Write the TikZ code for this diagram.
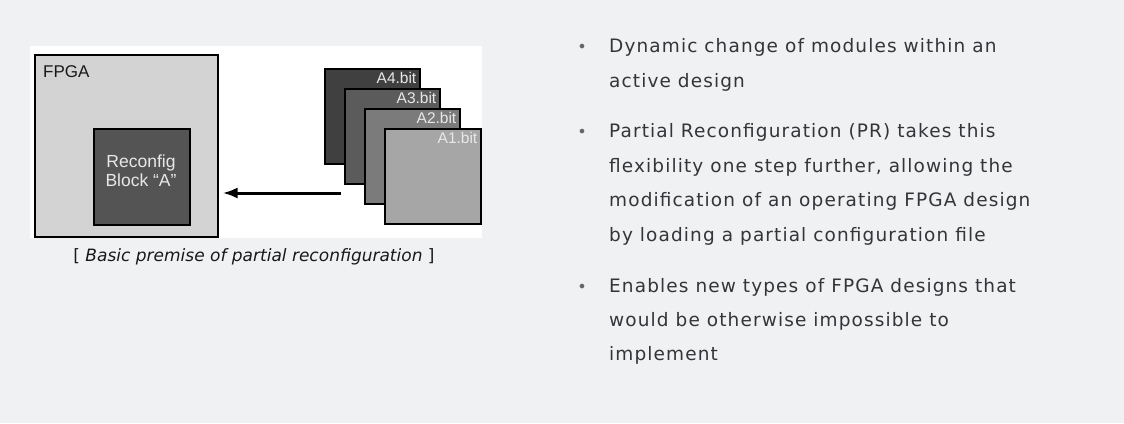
\documentclass[tikz,border=0pt]{standalone}
\usepackage{fontspec}
\setmainfont{Liberation Sans}
\newfontfamily\bulfont[LetterSpace=6]{DejaVu Sans}
\newfontfamily\capfont{DejaVu Sans}
\usetikzlibrary{arrows.meta}
\definecolor{bg}{HTML}{F0F1F3}
\definecolor{fpgagray}{HTML}{D3D3D3}
\definecolor{rbgray}{HTML}{545454}
\definecolor{afour}{HTML}{404040}
\definecolor{athree}{HTML}{5B5B5B}
\definecolor{atwo}{HTML}{7B7B7B}
\definecolor{aone}{HTML}{A6A6A6}
\definecolor{txt}{HTML}{333538}
\definecolor{labtxt}{HTML}{E8E8E8}
\tikzset{
  box/.style={draw=black, line width=1.5pt, inner sep=0pt, anchor=north west},
  bitbox/.style={box, minimum width=95pt, minimum height=95pt},
  bitlab/.style={text=labtxt, font=\fontsize{15.5}{15.5}\selectfont, inner sep=0pt, anchor=base east},
  line/.style={text=txt, font=\bulfont\fontsize{18.5}{20}\selectfont, inner sep=0pt, anchor=base west},
  dot/.style={text=black!60, font=\capfont\fontsize{16}{16}\selectfont, inner sep=0pt, anchor=base},
}
\begin{document}
\begin{tikzpicture}[x=1pt,y=-1pt]
\fill[bg] (0,0) rectangle (1124,423);
\useasboundingbox (0,0) rectangle (1124,423);
% white panel
\fill[white] (30,46) rectangle (482,238);
% FPGA
\node[box, fill=fpgagray, minimum width=183pt, minimum height=182pt] (fpga) at (34,54) {};
\node[inner sep=0pt, anchor=base west, font=\fontsize{17}{17}\selectfont, text=black!90] (fpgalab) at (43,77) {FPGA};
\node[box, fill=rbgray, minimum width=96pt, minimum height=96pt] (rb) at (93,128) {};
\node[align=center, inner sep=0pt, text=labtxt, font=\fontsize{17.5}{19}\selectfont] (rblab) at (141,171) {Reconfig\\Block “A”};
% bit files
\node[bitbox, fill=afour] (a4) at (324,68) {};
\node[bitlab] (a4l) at ([xshift=-4pt,yshift=-15pt]a4.north east) {A4.bit};
\node[bitbox, fill=athree] (a3) at (344,88) {};
\node[bitlab] (a3l) at ([xshift=-4pt,yshift=-15pt]a3.north east) {A3.bit};
\node[bitbox, fill=atwo] (a2) at (364,108) {};
\node[bitlab] (a2l) at ([xshift=-4pt,yshift=-15pt]a2.north east) {A2.bit};
\node[bitbox, fill=aone, minimum width=96pt] (a1) at (384,128) {};
\node[bitlab] (a1l) at ([xshift=-4pt,yshift=-15pt]a1.north east) {A1.bit};
% arrow
\coordinate (src) at (341,193);
\draw[line width=3pt, -{Latex[length=15pt,width=11pt]}, shorten >=4pt] (src) -- (fpga.east |- src);
% caption
\node[inner sep=0pt, anchor=base, font=\capfont\fontsize{17}{17}\selectfont, text=black!90] (cap) at (254,261) {[ \textit{Basic premise of partial reconfiguration} ]};
% bullets
\node[dot] (d1) at (582,52) {•};
\node[line] (l1) at (609,52) {Dynamic change of modules within an};
\node[line] (l2) at (609,87) {active design};
\node[dot] (d2) at (582,137) {•};
\node[line] (l3) at (609,137) {Partial Reconfiguration (PR) takes this};
\node[line] (l4) at (609,172) {flexibility one step further, allowing the};
\node[line] (l5) at (609,206) {modification of an operating FPGA design};
\node[line] (l6) at (609,241) {by loading a partial configuration file};
\node[dot] (d3) at (582,292) {•};
\node[line] (l7) at (609,292) {Enables new types of FPGA designs that};
\node[line] (l8) at (609,326) {would be otherwise impossible to};
\node[line] (l9) at (609,360) {implement};
\end{tikzpicture}
\end{document}
